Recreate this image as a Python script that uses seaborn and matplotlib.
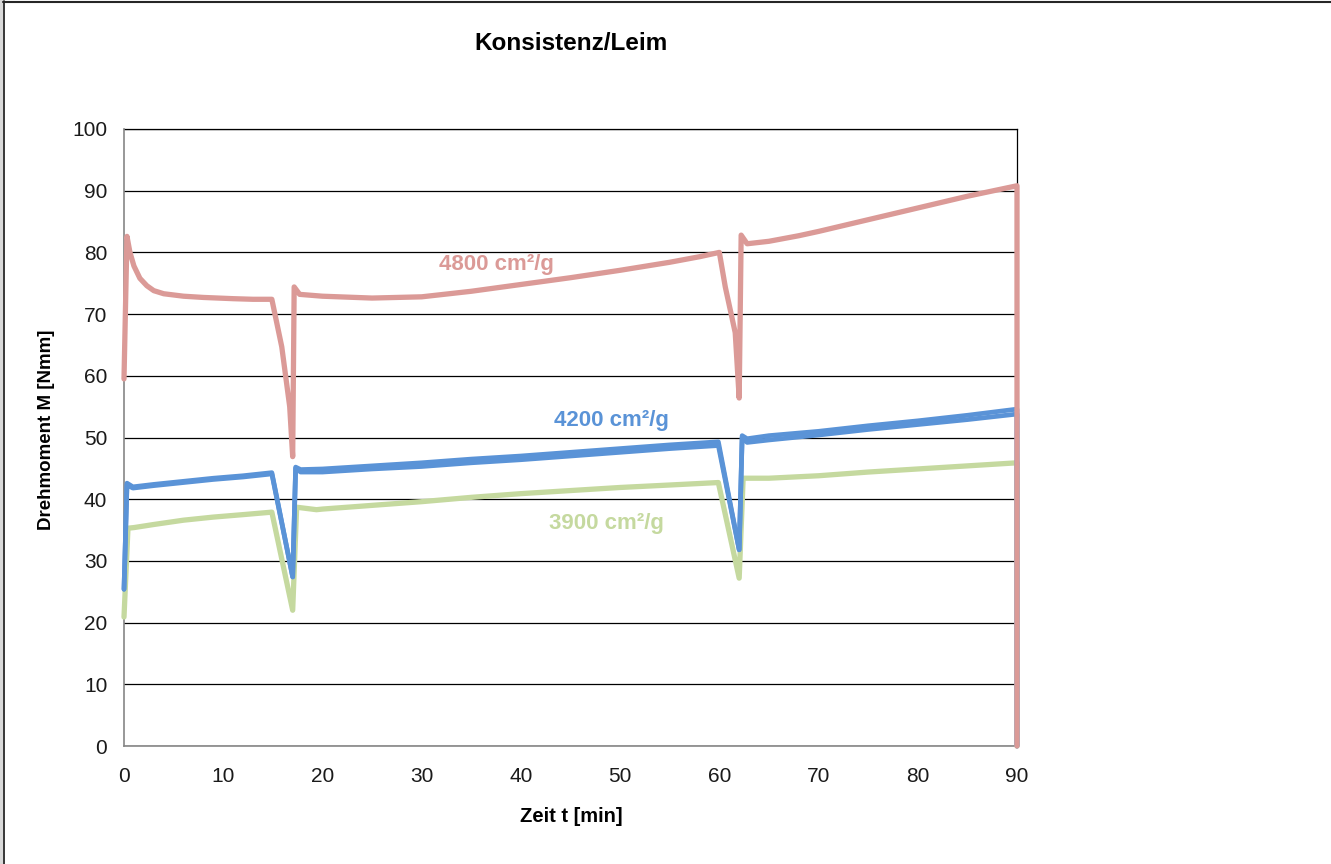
import matplotlib
matplotlib.use("Agg")
import matplotlib.pyplot as plt
from matplotlib.lines import Line2D
from matplotlib.patches import Rectangle
import numpy as np
import pandas as pd
import seaborn as sns

# Torque curves (time in min, torque in Nmm)
t_4800 = [0, 0.3, 0.6, 1.0, 1.6, 2.3, 3.0, 4.0, 6.0, 8.0, 11.0, 13.0, 14.9,
          15.9, 16.7, 17.0, 17.15, 17.7, 20, 25, 30, 35, 40, 45, 50, 55, 58,
          60.0, 60.6, 61.6, 62.0, 62.2, 62.8, 65, 68, 70, 75, 80, 85, 90, 90]
m_4800 = [59.5, 82.6, 80.0, 77.8, 75.8, 74.6, 73.8, 73.3, 72.9, 72.7, 72.5, 72.4, 72.4,
          64.7, 55.0, 46.9, 74.4, 73.2, 72.9, 72.6, 72.8, 73.7, 74.8, 75.9, 77.1, 78.4, 79.3,
          80.0, 74.4, 67.0, 56.4, 82.8, 81.4, 81.8, 82.7, 83.4, 85.3, 87.2, 89.1, 90.8, 0]

t_4200 = [0, 0.3, 0.9, 3, 6, 9, 12, 14.9, 17.0, 17.3, 17.8, 20, 25, 30, 35, 40,
          45, 50, 55, 59.9, 62.0, 62.3, 62.8, 65, 70, 75, 80, 85, 90, 90]
m_4200_a = [25.4, 42.6, 42.0, 42.4, 42.9, 43.4, 43.8, 44.3, 27.4, 45.2, 44.8, 44.9, 45.4,
            45.9, 46.5, 47.0, 47.6, 48.2, 48.8, 49.3, 31.8, 50.3, 49.8, 50.3, 51.0, 51.9,
            52.7, 53.6, 54.6, 0]
m_4200_b = [25.4, 42.3, 41.8, 42.2, 42.7, 43.2, 43.6, 44.1, 27.4, 45.0, 44.4, 44.4, 44.9,
            45.3, 45.9, 46.4, 47.0, 47.6, 48.2, 48.7, 31.8, 50.0, 49.2, 49.6, 50.4, 51.3,
            52.1, 52.9, 53.8, 0]

t_3900 = [0, 0.4, 1, 3, 6, 9, 12, 14.9, 17.0, 17.4, 19.4, 20, 25, 30, 35, 40, 45,
          50, 55, 59.9, 62.0, 62.4, 65, 70, 75, 80, 85, 90, 90]
m_3900 = [20.9, 35.3, 35.4, 35.9, 36.6, 37.1, 37.5, 37.9, 22.0, 38.7, 38.3, 38.4, 39.0,
          39.6, 40.3, 40.9, 41.4, 41.9, 42.3, 42.7, 27.2, 43.4, 43.4, 43.8, 44.4, 44.9,
          45.4, 45.9, 0]

labels = ["3900 cm²/g", "4200 cm²/g", "4800 cm²/g"]
x_ticks = list(range(0, 91, 10))
y_ticks = list(range(0, 101, 10))

RED = "#DB9A97"
BLUE = "#5A93D7"
GREEN = "#C5D99F"

sns.set_style("white")
plt.rcParams["font.family"] = ["Liberation Sans", "DejaVu Sans"]

fig = plt.figure(figsize=(13.31, 8.64), dpi=100)
ax = fig.add_axes([124 / 1331, 1 - 746 / 864, (1017 - 124) / 1331, (746 - 129) / 864])

series = [
    (t_3900, m_3900, GREEN, 3.8),
    (t_4200, m_4200_b, BLUE, 3.4),
    (t_4200, m_4200_a, BLUE, 3.4),
    (t_4800, m_4800, RED, 3.8),
]
for t, m, c, w in series:
    df = pd.DataFrame({"t": t, "m": m})
    sns.lineplot(data=df, x="t", y="m", ax=ax, color=c, lw=w,
                 estimator=None, sort=False, zorder=3, clip_on=False)

ax.set_xlim(0, 90)
ax.set_ylim(0, 100)
ax.set_xticks(x_ticks)
ax.set_yticks(y_ticks)
ax.tick_params(axis="both", labelsize=15, length=7, width=1, color="#868686",
               direction="out", pad=5, labelcolor="#1a1a1a")
ax.tick_params(axis="x", pad=8)
ax.grid(axis="y", color="black", lw=0.9, zorder=1)
ax.set_axisbelow(True)
for side in ["left", "bottom"]:
    ax.spines[side].set_color("#868686")
    ax.spines[side].set_linewidth(1.2)
for side in ["top", "right"]:
    ax.spines[side].set_color("black")
    ax.spines[side].set_linewidth(0.9)
    ax.spines[side].set_zorder(2)
ax.set_xlabel("")
ax.set_ylabel("")

# Series annotations
ax.text(37.5, 78.0, labels[2], color=RED, fontsize=16, fontweight="bold",
        ha="center", va="center")
ax.text(49.1, 52.7, labels[1], color=BLUE, fontsize=16, fontweight="bold",
        ha="center", va="center")
ax.text(48.6, 36.1, labels[0], color=GREEN, fontsize=16, fontweight="bold",
        ha="center", va="center")

fig.text(571 / 1331, 1 - 44 / 864, "Konsistenz/Leim", fontsize=17.5,
         fontweight="bold", ha="center", va="center", color="black")
fig.text(571 / 1331, 1 - 817 / 864, "Zeit t [min]", fontsize=14.5,
         fontweight="bold", ha="center", va="center", color="black")
fig.text(47 / 1331, 1 - 430 / 864, "Drehmoment M [Nmm]", fontsize=13.5,
         fontweight="bold", ha="center", va="center", rotation=90, color="black")

# Chart frame
fig.add_artist(Rectangle((0, 0), 3 / 1331, 1, transform=fig.transFigure,
                         facecolor="#D9D9D9", edgecolor="none"))
fig.add_artist(Line2D([3.5 / 1331, 3.5 / 1331], [0, 1 - 1 / 864],
                      transform=fig.transFigure, color="#262626", lw=1.3))
fig.add_artist(Line2D([3 / 1331, 1], [1 - 1.5 / 864, 1 - 1.5 / 864],
                      transform=fig.transFigure, color="#262626", lw=1.5))

fig.savefig("out.png", dpi=100)
